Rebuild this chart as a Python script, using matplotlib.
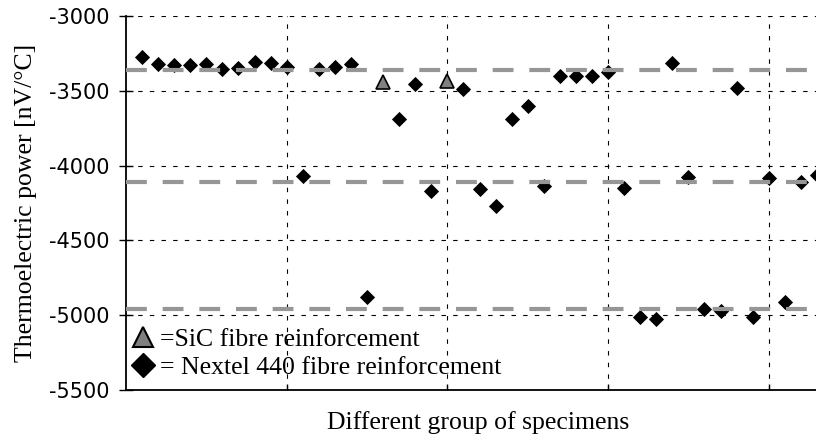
import numpy as np
import matplotlib
matplotlib.use('Agg')
import matplotlib.pyplot as plt
from matplotlib.lines import Line2D

# datos
nextel_x = [1, 2, 3, 4, 5, 6, 7, 8, 9, 10, 11, 12, 13, 14, 15, 17, 18, 19,
            21, 22, 23, 24, 25, 26, 27, 28, 29, 30, 31, 32, 33, 34, 35, 36,
            37, 38, 39, 40, 41, 42, 43]
nextel_y = [-3272, -3321, -3328, -3330, -3322, -3356, -3345, -3305, -3316, -3339,
            -4067, -3354, -3343, -3323, -4880, -3691, -3457, -4170,
            -3490, -4158, -4270, -3691, -3602, -4135, -3401, -3401, -3401, -3372,
            -4147, -5010, -5027, -3316, -4074, -4958, -4972, -3479, -5014, -4085,
            -4910, -4112, -4063]

sic_x = [16, 20]
sic_y = [-3440, -3435]

niveles = [-3360, -4110, -4960]

grupos = [10, 20, 30, 40]
yticks = [-5500, -5000, -4500, -4000, -3500, -3000]

serif = 'Liberation Serif'

fig = plt.figure(figsize=(8.16, 4.41), dpi=100)
ax = fig.add_axes([126 / 816, 1 - 390 / 441, 1 - 126 / 816, 374 / 441])

# lineas de nivel medio
for nivel in niveles:
    ax.axhline(nivel, color='#969696', lw=3.0, dashes=(5.0, 3.8), zorder=3)

ax.plot(nextel_x, nextel_y, ls='none', marker='D', ms=7.2, color='black',
        mec='black', mew=0.6, zorder=2)
ax.plot(sic_x, sic_y, ls='none', marker='^', ms=10.5, mfc='#808080',
        mec='black', mew=1.2, zorder=4)

ax.set_xlim(0, 42.94)
ax.set_ylim(-5500, -3000)
ax.set_xticks(grupos)
ax.set_xticklabels([])
ax.set_yticks(yticks)
ax.set_yticklabels([str(v) for v in yticks])
for lab in ax.get_yticklabels():
    lab.set_fontfamily('DejaVu Sans')
    lab.set_fontsize(15)

ax.tick_params(axis='y', direction='inout', length=10, width=1, pad=7)
ax.tick_params(axis='x', direction='in', length=4, width=1)

ax.grid(True, color='black', lw=0.8, ls=(0, (4, 6.5)), zorder=0)
ax.set_axisbelow(True)

ax.spines['top'].set_visible(False)
ax.spines['right'].set_visible(False)
ax.spines['left'].set_linewidth(1.3)
ax.spines['bottom'].set_linewidth(1.3)

ax.set_ylabel('Thermoelectric power [nV/°C]', family=serif, fontsize=18.5)
ax.yaxis.set_label_coords(-0.129, 0.5)
ax.set_xlabel('Different group of specimens', family=serif, fontsize=18.5)
ax.xaxis.set_label_coords(0.51, -0.056)

handles = [
    Line2D([], [], ls='none', marker='^', ms=14, mfc='#808080', mec='black', mew=1.5),
    Line2D([], [], ls='none', marker='D', ms=12, color='black'),
]
ax.legend(handles, ['=SiC fibre reinforcement', '= Nextel 440 fibre reinforcement'],
          loc='lower left', bbox_to_anchor=(0.0098, 0.03), borderaxespad=0,
          borderpad=0, frameon=False, handlelength=0.8, handletextpad=0.25,
          labelspacing=0.2, prop={'family': serif, 'size': 18.5})

fig.savefig('out.png', dpi=100)
